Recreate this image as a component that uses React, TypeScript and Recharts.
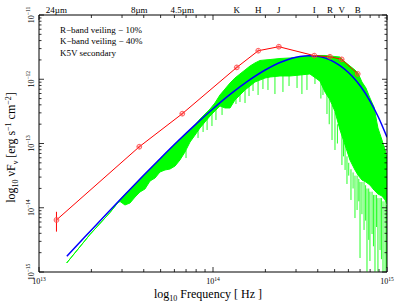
import React from 'react';
import { ComposedChart, Line, Area, Scatter, XAxis, YAxis, ErrorBar } from 'recharts';

const W = 399;
const H = 305;
// the four axes take 1px each, so the plot area is x 39..387, y 15..272
const M = { top: 14, right: 11, bottom: 32, left: 38 };
const PL = 39;
const PR = 387;
const PT = 15;
const PB = 272;
const FONT = "'Liberation Serif', 'Times New Roman', Times, serif";

// ---- photometry (red) ----
const bandLabels = ['24µm', '8µm', '4.5µm', 'K', 'H', 'J', 'I', 'R', 'V', 'B'];
const redFreq = [1.26e13, 3.77e13, 6.66e13, 1.37e14, 1.82e14, 2.39e14, 3.82e14, 4.7e14, 5.49e14, 6.79e14];
const redFlux = [6.45e-15, 8.9e-14, 2.91e-13, 1.53e-12, 2.78e-12, 3.21e-12, 2.33e-12, 2.24e-12, 2.04e-12, 1.21e-12];
const redErr = [2.2e-15, 0, 0, 0, 0, 0, 0, 0, 0, 0];

// ---- smooth continuum (blue), log10 units ----
const blueLogFreq = [13.16, 13.2, 13.3, 13.4, 13.5, 13.6, 13.7, 13.8, 13.9, 14.0, 14.1, 14.2, 14.3, 14.4, 14.5, 14.55, 14.6, 14.7, 14.8, 14.85, 14.9, 14.95, 15.0];
const blueLogFlux = [-14.755, -14.638, -14.349, -14.061, -13.778, -13.498, -13.225, -12.958, -12.702, -12.459, -12.232, -12.029, -11.856, -11.724, -11.647, -11.636, -11.644, -11.736, -11.953, -12.117, -12.328, -12.587, -12.902];

// ---- K5V template spectrum (green), log10 units: upper and lower envelope ----
const greenLogFreq = [13.159, 13.293, 13.408, 13.454, 13.466, 13.494, 13.523, 13.552, 13.58, 13.609, 13.638, 13.667, 13.695, 13.724, 13.753, 13.782, 13.81, 13.839, 13.868, 13.897, 13.925, 13.954, 13.983, 14.011, 14.04, 14.069, 14.098, 14.126, 14.155, 14.184, 14.213, 14.241, 14.27, 14.299, 14.328, 14.385, 14.443, 14.5, 14.557, 14.615, 14.644, 14.672, 14.701, 14.73, 14.759, 14.787, 14.816, 14.833, 14.856, 14.879, 14.902, 14.925, 14.948, 14.971, 14.989, 15.0];
const greenLogHi = [-14.86, -14.416, -14.074, -13.918, -13.875, -13.794, -13.716, -13.63, -13.553, -13.475, -13.397, -13.319, -13.241, -13.163, -13.086, -13.008, -12.93, -12.86, -12.79, -12.712, -12.619, -12.541, -12.463, -12.37, -12.245, -12.152, -12.058, -11.981, -11.918, -11.856, -11.794, -11.747, -11.708, -11.7, -11.693, -11.677, -11.669, -11.654, -11.638, -11.63, -11.63, -11.638, -11.646, -11.654, -11.732, -11.794, -11.856, -11.903, -12.043, -12.136, -12.292, -12.43, -12.759, -12.946, -13.101, -13.23];
const greenLogLo = [-14.86, -14.416, -14.074, -13.918, -13.903, -13.957, -13.926, -13.833, -13.755, -13.708, -13.584, -13.537, -13.444, -13.412, -13.397, -13.35, -13.257, -13.132, -12.977, -12.868, -12.759, -12.665, -12.572, -12.494, -12.416, -12.447, -12.447, -12.323, -12.245, -12.167, -12.105, -12.043, -12.012, -11.981, -11.965, -11.949, -11.949, -11.934, -11.918, -12.03, -12.2, -12.32, -12.5, -12.79, -13.023, -13.257, -13.412, -13.49, -13.568, -13.6, -13.646, -13.724, -13.786, -13.817, -13.879, -13.942];

// absorption-line spikes of the template (green), log10 units
const spikeLogFreq = [13.845, 13.914, 13.943, 13.966, 13.994, 14.017, 14.052, 14.132, 14.155, 14.184, 14.207, 14.23, 14.259, 14.287, 14.316, 14.356, 14.402, 14.437, 14.483, 14.511, 14.54, 14.586, 14.62, 14.632, 14.655, 14.668, 14.684, 14.701, 14.715, 14.741, 14.75, 14.759, 14.77, 14.78, 14.793, 14.805, 14.816, 14.828, 14.838, 14.845, 14.856, 14.868, 14.877, 14.885, 14.895, 14.902, 14.914, 14.922, 14.931, 14.94, 14.948, 14.96, 14.968, 14.977, 14.989, 14.997];
const spikeLogTop = [-13.101, -12.728, -12.634, -12.603, -12.525, -12.447, -12.37, -12.292, -12.214, -12.136, -12.089, -12.012, -11.996, -11.981, -11.949, -11.934, -11.934, -11.934, -11.918, -11.903, -11.903, -11.934, -12.0, -12.089, -12.2, -12.3, -12.401, -12.5, -12.7, -12.8, -12.95, -13.0, -13.2, -13.3, -13.4, -13.45, -13.5, -13.5, -13.55, -13.6, -13.6, -13.6, -13.65, -13.7, -13.7, -13.75, -13.75, -13.8, -13.8, -13.8, -13.85, -13.85, -13.85, -13.9, -13.9, -13.95];
const spikeLogBottom = [-13.226, -12.914, -12.821, -12.79, -12.728, -12.634, -12.556, -12.385, -12.354, -12.37, -12.261, -12.183, -12.245, -12.152, -12.167, -12.23, -12.198, -12.105, -12.136, -12.23, -12.167, -12.074, -12.3, -12.245, -12.541, -12.7, -12.946, -13.101, -13.0, -13.335, -13.2, -13.412, -13.63, -13.5, -13.879, -13.7, -14.16, -14.035, -13.9, -14.782, -14.1, -14.346, -14.2, -14.995, -14.5, -14.829, -14.409, -14.6, -14.995, -14.3, -14.995, -14.658, -14.8, -14.995, -14.995, -14.938];

// ---- axis ticks ----
const xTicks = [1e13, 2e13, 3e13, 4e13, 5e13, 6e13, 7e13, 8e13, 9e13, 1e14, 2e14, 3e14, 4e14, 5e14, 6e14, 7e14, 8e14, 9e14, 1e15];
const yTicks = [
  1e-15, 2e-15, 3e-15, 4e-15, 5e-15, 6e-15, 7e-15, 8e-15, 9e-15,
  1e-14, 2e-14, 3e-14, 4e-14, 5e-14, 6e-14, 7e-14, 8e-14, 9e-14,
  1e-13, 2e-13, 3e-13, 4e-13, 5e-13, 6e-13, 7e-13, 8e-13, 9e-13,
  1e-12, 2e-12, 3e-12, 4e-12, 5e-12, 6e-12, 7e-12, 8e-12, 9e-12,
  1e-11,
];
const topTicks = [...xTicks, ...redFreq];

// ---- tables ----
const redData = redFreq.map((f, i) => ({ x: f, y: redFlux[i], err: redErr[i] }));
const blueData = blueLogFreq.map((f, i) => ({ x: 10 ** f, y: 10 ** blueLogFlux[i] }));
const greenData = greenLogFreq.map((f, i) => ({ x: 10 ** f, range: [10 ** greenLogLo[i], 10 ** greenLogHi[i]] }));
const spikeData = spikeLogFreq.map((f, i) => {
  const top = 10 ** spikeLogTop[i];
  const bot = 10 ** spikeLogBottom[i];
  return { x: 10 ** f, y: top, err: [top - bot, 0] };
});

const isMajor = (v: number) => Math.abs(Math.log10(v) - Math.round(Math.log10(v))) < 1e-6;
const expo = (v: number) => {
  const e = Math.round(Math.log10(v));
  return e < 0 ? `\u2212${-e}` : `${e}`;
};

const BottomTick = (props: any) => {
  const { x, payload } = props;
  const v = payload.value;
  const major = isMajor(v);
  const len = major ? 5 : 3;
  return (
    <g>
      <line x1={x} x2={x} y1={PB} y2={PB - len} stroke="#000" strokeWidth={0.8} />
      {major && (
        <text x={x} y={PB + 12} textAnchor="middle" fontFamily={FONT} fontSize={8} fill="#000">
          10<tspan dy={-3.5} fontSize={5.5}>{expo(v)}</tspan>
        </text>
      )}
    </g>
  );
};

const TopTick = (props: any) => {
  const { x, payload } = props;
  const v = payload.value;
  const idx = redFreq.indexOf(v);
  if (idx >= 0) {
    return (
      <text x={x} y={PT - 2.5} textAnchor="middle" fontFamily={FONT} fontSize={9} fill="#000">
        {bandLabels[idx]}
      </text>
    );
  }
  const len = isMajor(v) ? 5 : 3;
  return <line x1={x} x2={x} y1={PT} y2={PT + len} stroke="#000" strokeWidth={0.8} />;
};

const LeftTick = (props: any) => {
  const { y, payload } = props;
  const v = payload.value;
  const major = isMajor(v);
  const len = major ? 5 : 2.5;
  return (
    <g>
      <line x1={PL} x2={PL + len} y1={y} y2={y} stroke="#000" strokeWidth={0.8} />
      {major && (
        <text transform={`translate(${PL - 5.5},${y}) rotate(-90)`} textAnchor="middle" fontFamily={FONT} fontSize={8} fill="#000">
          10<tspan dy={-3.5} fontSize={5.5}>{expo(v)}</tspan>
        </text>
      )}
    </g>
  );
};

const RightTick = (props: any) => {
  const { y, payload } = props;
  const v = payload.value;
  const len = isMajor(v) ? 5 : 2.5;
  return <line x1={PR} x2={PR - len} y1={y} y2={y} stroke="#000" strokeWidth={0.8} />;
};

const RedDot = (p: any) => {
  const { cx, cy, index } = p;
  if (cx == null || cy == null) return <g key={`rd-${index}`} />;
  const r = 2.4;
  return (
    <g key={`rd-${index}`}>
      <circle cx={cx} cy={cy} r={r} fill="none" stroke="#ff4040" strokeWidth={0.8} />
      <line x1={cx - r} x2={cx + r} y1={cy} y2={cy} stroke="#ff4040" strokeWidth={0.7} />
      <line x1={cx} x2={cx} y1={cy - r} y2={cy + r} stroke="#ff4040" strokeWidth={0.7} />
    </g>
  );
};

const axisLine = { stroke: '#000', strokeWidth: 1 };

export default function App() {
  return (
    <div style={{ position: 'absolute', left: 0, top: 0, width: W, height: H, fontFamily: FONT }}>
      <ComposedChart width={W} height={H} margin={M}>
        <XAxis
          xAxisId="b"
          dataKey="x"
          type="number"
          scale="log"
          domain={[1e13, 1e15]}
          allowDataOverflow
          ticks={xTicks}
          interval={0}
          tick={BottomTick}
          tickLine={false}
          tickSize={0}
          tickMargin={0}
          height={1}
          axisLine={axisLine}
          orientation="bottom"
        />
        <XAxis
          xAxisId="t"
          dataKey="x"
          type="number"
          scale="log"
          domain={[1e13, 1e15]}
          allowDataOverflow
          ticks={topTicks}
          interval={0}
          tick={TopTick}
          tickLine={false}
          tickSize={0}
          tickMargin={0}
          height={1}
          axisLine={axisLine}
          orientation="top"
        />
        <YAxis
          yAxisId="l"
          dataKey="y"
          type="number"
          scale="log"
          domain={[1e-15, 1e-11]}
          allowDataOverflow
          ticks={yTicks}
          interval={0}
          tick={LeftTick}
          tickLine={false}
          tickSize={0}
          tickMargin={0}
          width={1}
          axisLine={axisLine}
          orientation="left"
        />
        <YAxis
          yAxisId="r"
          dataKey="y"
          type="number"
          scale="log"
          domain={[1e-15, 1e-11]}
          allowDataOverflow
          ticks={yTicks}
          interval={0}
          tick={RightTick}
          tickLine={false}
          tickSize={0}
          tickMargin={0}
          width={1}
          axisLine={axisLine}
          orientation="right"
        />
        <Area
          xAxisId="b"
          yAxisId="l"
          data={greenData}
          dataKey="range"
          type="linear"
          fill="#00ff00"
          fillOpacity={1}
          stroke="#00ff00"
          strokeWidth={1}
          isAnimationActive={false}
          dot={false}
          activeDot={false}
        />
        <Scatter
          xAxisId="b"
          yAxisId="l"
          data={spikeData}
          dataKey="y"
          shape={() => <g />}
          isAnimationActive={false}
        >
          <ErrorBar dataKey="err" direction="y" width={0} stroke="#00ff00" strokeWidth={1} strokeOpacity={0.85} isAnimationActive={false} />
        </Scatter>
        <Line
          xAxisId="b"
          yAxisId="l"
          data={blueData}
          dataKey="y"
          type="monotone"
          stroke="#0000ff"
          strokeWidth={1.5}
          dot={false}
          activeDot={false}
          isAnimationActive={false}
        />
        <Line
          xAxisId="b"
          yAxisId="l"
          data={redData}
          dataKey="y"
          type="linear"
          stroke="#ff0000"
          strokeWidth={1}
          dot={RedDot}
          activeDot={false}
          isAnimationActive={false}
        >
          <ErrorBar dataKey="err" direction="y" width={0} stroke="#ff0000" strokeWidth={1} isAnimationActive={false} />
        </Line>
      </ComposedChart>
      <svg width={W} height={H} style={{ position: 'absolute', left: 0, top: 0, pointerEvents: 'none' }}>
        <g fontFamily={FONT} fill="#000">
          <text x={60} y={32.5} fontSize={9}>R−band veiling − 10%</text>
          <text x={60} y={44} fontSize={9}>K−band veiling − 40%</text>
          <text x={60} y={55.5} fontSize={9}>K5V secondary</text>
          <text x={208} y={298} textAnchor="middle" fontSize={12}>
            log<tspan dy={3} fontSize={8}>10</tspan>
            <tspan dy={-3}> Frequency [ Hz ]</tspan>
          </text>
          <text transform={`translate(15,${(PT + PB) / 2 + 4}) rotate(-90)`} textAnchor="middle" fontSize={12}>
            log<tspan dy={3} fontSize={8}>10</tspan>
            <tspan dy={-3}> νF</tspan>
            <tspan dy={3} fontSize={8}>ν</tspan>
            <tspan dy={-3}> [erg s</tspan>
            <tspan dy={-4} fontSize={8}>−1</tspan>
            <tspan dy={4}> cm</tspan>
            <tspan dy={-4} fontSize={8}>−2</tspan>
            <tspan dy={4}>]</tspan>
          </text>
        </g>
      </svg>
    </div>
  );
}
